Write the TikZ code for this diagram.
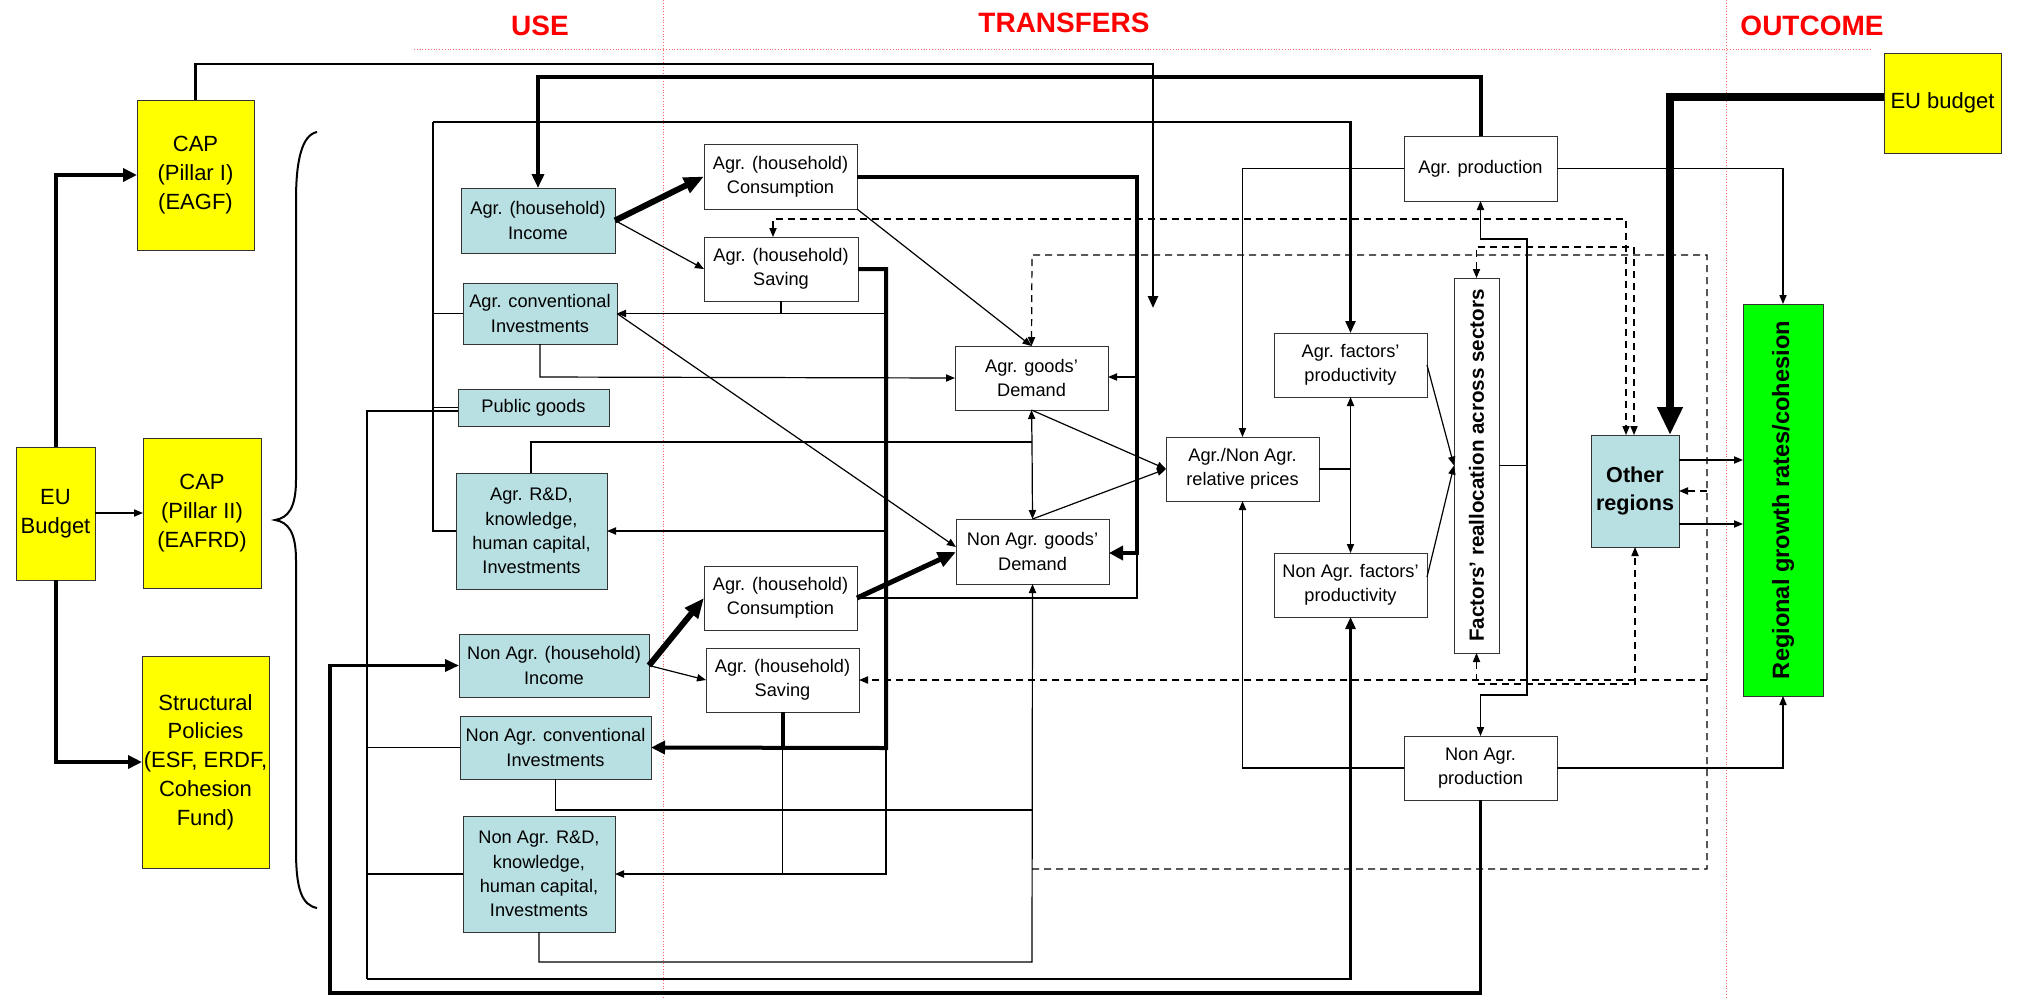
\documentclass[tikz,border=0pt]{standalone}
\usepackage{fontspec}
\setmainfont{Liberation Sans}
\usetikzlibrary{arrows.meta,calc}
\definecolor{cyel}{HTML}{FFFF00}
\definecolor{cblue}{HTML}{B8DFE1}
\definecolor{cgreen}{HTML}{00FF00}
\definecolor{cred}{HTML}{FF0000}
\newcommand\mybox[6]{\node[#1, minimum width={(#4-#2)*0.5pt}, minimum height={(#5-#3)*0.5pt}] (#6) at ({(#2+#4)/2},{(#3+#5)/2})}
\begin{document}
\begin{tikzpicture}[x=0.5pt,y=-0.5pt,
  box/.style={draw=black!80, line width=0.5pt, inner sep=0pt, outer sep=0pt, align=center, font=\fontsize{9.1}{12.2}\selectfont},
  ybox/.style={box, fill=cyel, font=\fontsize{11}{14.4}\selectfont},
  bbox/.style={box, fill=cblue},
  wbox/.style={box, fill=white},
  ln/.style={line width=0.6pt},
  arr/.style={ln, -{Triangle[length=4.5pt,width=3.6pt]}},
  darr/.style={ln, {Triangle[length=4.5pt,width=3.6pt]}-{Triangle[length=4.5pt,width=3.6pt]}},
  dsh/.style={dash pattern=on 3.5pt off 2.5pt},
  med/.style={line width=1.2pt},
  medarr/.style={med, -{Triangle[length=6pt,width=5pt]}},
  tk/.style={line width=2pt},
  tkarr/.style={tk, -{Triangle[length=7pt,width=6.5pt]}},
  rdot/.style={draw=cred!60, line width=0.4pt, densely dotted},
  hdr/.style={text=cred, font=\fontsize{14}{14}\selectfont\bfseries}
]
\useasboundingbox (0,0) rectangle (2018,997);

% guides and headers
\draw[rdot] (663,0) -- (663,997);
\draw[rdot] (1726,0) -- (1726,997);
\draw[rdot] (414,49) -- (1872,49);
\node[hdr] (huse) at (540,26) {USE};
\node[hdr] (htr) at (1064,23) {TRANSFERS};
\node[hdr] (hout) at (1812,26) {OUTCOME};

% yellow boxes
\mybox{ybox}{16}{447}{95}{580}{eul} {EU\\Budget};
\mybox{ybox}{137}{100}{254}{250}{cap1} {CAP\\(Pillar I)\\(EAGF)};
\mybox{ybox}{143}{438}{261}{588}{cap2} {CAP\\(Pillar II)\\(EAFRD)};
\mybox{ybox}{142}{656}{269}{868}{sp} {Structural\\Policies\\(ESF, ERDF,\\Cohesion\\Fund)};
\mybox{ybox}{1884}{53}{2001}{153}{eur} {EU budget};

% blue boxes
\mybox{bbox}{461}{188}{615}{253}{ainc} {Agr. (household)\\Income};
\mybox{bbox}{463}{283}{617}{344}{aconv} {Agr. conventional\\Investments};
\mybox{bbox}{458}{389}{609}{426}{pub} {Public goods};
\mybox{bbox}{456}{473}{607}{589}{ard} {Agr. R\&D,\\knowledge,\\human capital,\\Investments};
\mybox{bbox}{459}{634}{649}{697}{ninc} {Non Agr. (household)\\Income};
\mybox{bbox}{460}{716}{651}{779}{nconv} {Non Agr. conventional\\Investments};
\mybox{bbox}{463}{816}{615}{932}{nrd} {Non Agr. R\&D,\\knowledge,\\human capital,\\Investments};
\mybox{bbox, font=\fontsize{10.8}{14}\selectfont\bfseries}{1591}{435}{1679}{547}{oth} {Other\\regions};

% white boxes
\mybox{wbox}{704}{144}{857}{209}{con1} {Agr. (household)\\Consumption};
\mybox{wbox}{704}{237}{858}{301}{sav1} {Agr. (household)\\Saving};
\mybox{wbox}{704}{566}{857}{630}{con2} {Agr. (household)\\Consumption};
\mybox{wbox}{706}{648}{859}{712}{sav2} {Agr. (household)\\Saving};
\mybox{wbox}{955}{346}{1108}{410}{agd} {Agr. goods’\\Demand};
\mybox{wbox}{956}{519}{1109}{584}{nagd} {Non Agr. goods’\\Demand};
\mybox{wbox}{1166}{437}{1319}{501}{rel} {Agr./Non Agr.\\relative prices};
\mybox{wbox}{1274}{333}{1427}{397}{afp} {Agr. factors’\\productivity};
\mybox{wbox}{1274}{553}{1427}{617}{nfp} {Non Agr. factors’\\productivity};
\mybox{wbox}{1454}{278}{1499}{653}{fra} {};
\node[rotate=90, font=\fontsize{10.3}{12}\selectfont\bfseries] (fratext) at (fra.center) {Factors’ reallocation across sectors};
\mybox{wbox}{1404}{136}{1557}{201}{apr} {Agr. production};
\mybox{wbox}{1404}{736}{1557}{800}{npr} {Non Agr.\\production};

% green box
\mybox{box, fill=cgreen}{1743}{304}{1823}{696}{rg} {};
\node[rotate=90, font=\fontsize{11.8}{12}\selectfont\bfseries] (rgtext) at (rg.center) {Regional growth rates/cohesion};

% brace
\draw[line width=1pt] (317,132) .. controls (302,135) and (296,160) .. (296,200) -- (296,480)
  .. controls (296,508) and (288,518) .. (275,520) .. controls (288,522) and (296,532) .. (296,560)
  -- (296,850) .. controls (296,890) and (302,905) .. (317,908);

% EU budget (left) to policies
\draw[tkarr] (eul.north -| 56,0) -- (56,175) -- (cap1.west |- 0,175);
\draw[arr] (eul.east |- 0,513) -- (cap2.west |- 0,513);
\draw[tkarr] (eul.south -| 56,0) -- (56,762) -- (sp.west |- 0,762);

% CAP I line
\draw[med, -{Triangle[length=6pt,width=5pt]}] (cap1.north) -- (cap1.north |- 0,64) -- (1153,64) -- (1153,308);

% Agr production -> Agr income
\draw[tk, -{Triangle[length=7pt,width=6pt]}] (apr.north) -- (apr.north |- 0,77) -- (ainc.north |- 0,77) -- (ainc.north);

% incomes to consumption / saving
\draw[line width=3pt, -{Triangle[length=10pt,width=8pt]}] (ainc.east) -- (con1.west);
\draw[arr] (ainc.east) -- (sav1.west);
\draw[line width=3pt, -{Triangle[length=10pt,width=8pt]}] (ninc.east) -- (con2.west);
\draw[arr] (ninc.east) -- (sav2.west);

% consumption to demand
\draw[arr] (con1.south east) -- (agd.north);
\draw[tk, -{Triangle[length=7pt,width=7pt]}] (con1.east) -- (1137,176.5) -- (1137,553) -- (nagd.east |- 0,553);
\draw[arr] (con2.east) -- (1137,598) -- (1137,377) -- (agd.east |- 0,377);
\draw[line width=2.5pt, -{Triangle[length=9pt,width=7.5pt]}] (con2.east) -- (nagd.west |- 0,552);

% saving to investments
\draw[tk, -{Triangle[length=7pt,width=6.5pt]}] (sav1.east) -- (886,269) -- (886,748) -- (nconv.east);
\draw[ln] (sav1.south) -- (sav1.south |- aconv.east);
\draw[arr] (886,313.5) -- (aconv.east);
\draw[arr] (886,531) -- (ard.east);
\draw[tk] (sav2.south) -- (sav2.south |- 0,748);
\draw[ln] (886,748) -- (886,874) -- (782.5,874);
\draw[arr] (sav2.south |- 0,748) -- (782.5,874) -- (nrd.east);

% investments to demand
\draw[arr] (aconv.south) -- (aconv.south |- 0,377) -- (agd.west);
\draw[arr] (aconv.east) -- (nagd.west |- 0,547);
\draw[ln] (ard.north -| 531,0) -- (531,442) -- (1032,442);
\draw[arr] (1032,442) -- (agd.south);
\draw[arr] (1032,442) -- (nagd.north);
\draw[ln] (nconv.south) -- (nconv.south |- 0,810) -- (1032,810);
\draw[arr] (nrd.south) -- (nrd.south |- 0,962) -- (1032,962) -- (nagd.south);

% demand to prices
\draw[arr] (agd.south) -- (rel.west);
\draw[arr] (nagd.north) -- (rel.west);

% Agr side loop to Agr factors' productivity
\draw[ln] (aconv.west) -- (433,313.5);
\draw[ln] (pub.west) -- (433,407.5);
\draw[ln] (ard.west) -- (433,531) -- (433,122);
\draw[medarr] (433,122) -- (1350.5,122) -- (afp.north);

% Non Agr side loop to Non Agr factors' productivity
\draw[ln] (pub.west |- 0,411) -- (367,411) -- (367,979);
\draw[ln] (nconv.west) -- (367,747.5);
\draw[ln] (nrd.west) -- (367,874);
\draw[line width=1.4pt, -{Triangle[length=6pt,width=5pt]}] (367,979) -- (1350.5,979) -- (nfp.south);

% Non Agr production -> Non Agr income
\draw[line width=1.6pt, -{Triangle[length=7pt,width=6pt]}] (npr.south) -- (npr.south |- 0,993) -- (330,993) -- (330,665.5) -- (ninc.west);

% production to prices
\draw[arr] (apr.west) -- (1242.5,168.5) -- (rel.north);
\draw[arr] (npr.west) -- (1242.5,768) -- (rel.south);

% prices to productivity
\draw[ln] (rel.east) -- (1350.5,469);
\draw[arr] (1350.5,469) -- (afp.south);
\draw[arr] (1350.5,469) -- (nfp.north);

% productivity to reallocation
\draw[arr] (afp.east) -- (fra.west);
\draw[arr] (nfp.east |- 0,577) -- (fra.west);

% reallocation to production
\draw[ln] (fra.east) -- (1527,465.5);
\draw[arr] (1527,465.5) -- (1527,239) -- (1480.5,239) -- (apr.south);
\draw[arr] (1527,465.5) -- (1527,695) -- (1480.5,695) -- (npr.north);

% production to regional growth
\draw[arr] (apr.east) -- (1783,168.5) -- (rg.north);
\draw[arr] (npr.east) -- (1783,768) -- (rg.south);

% other regions to regional growth
\draw[arr] (oth.east |- 0,460) -- (rg.west |- 0,460);
\draw[arr] (oth.east |- 0,524) -- (rg.west |- 0,524);

% EU budget (right) -> other regions
\draw[line width=4pt, -{Triangle[length=14pt,width=12pt]}] (eur.west |- 0,97) -- (1670,97) -- (oth.north -| 1670,0);

% dashed connections
\draw[darr, dsh] (sav1.north -| 773,0) -- (773,219) -- (1626,219) -- (oth.north -| 1626,0);
\draw[darr, dsh] (fra.north) -- (1476.5,247) -- (1634,247) -- (oth.north -| 1634,0);
\draw[darr, dsh] (fra.south) -- (1476.5,684) -- (1635,684) -- (oth.south);
\draw[arr, dsh] (1032,869) -- (1707,869) -- (1707,255) -- (1032,255) -- (agd.north);
\draw[arr, dsh] (1707,491) -- (oth.east |- 0,491);
\draw[arr, dsh] (1707,680) -- (sav2.east);

\end{tikzpicture}
\end{document}
